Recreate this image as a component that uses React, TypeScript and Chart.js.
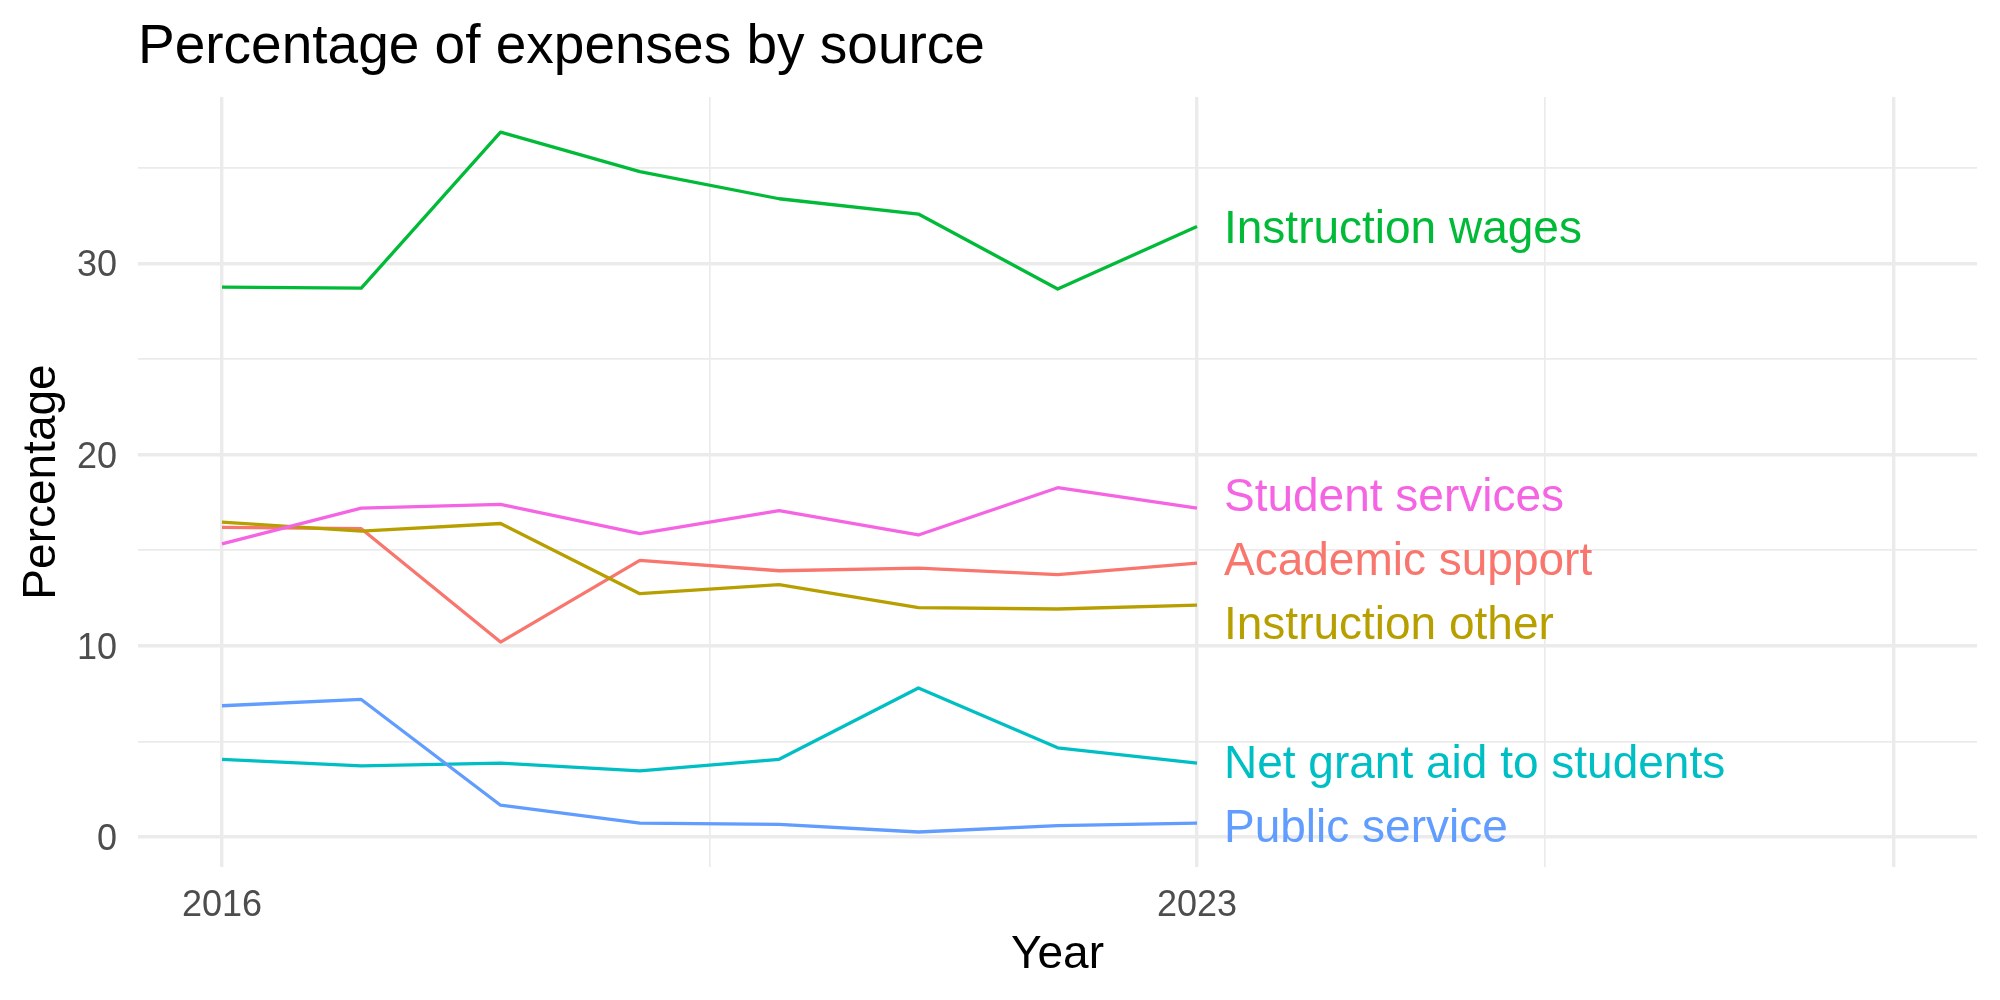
import React, { useEffect, useRef } from "react";
import { Chart, registerables } from "chart.js";

Chart.register(...registerables);

// ---------- data ----------
const years = [2016, 2017, 2018, 2019, 2020, 2021, 2022, 2023];

const seriesNames = [
  "Academic support",
  "Instruction other",
  "Instruction wages",
  "Net grant aid to students",
  "Public service",
  "Student services",
];

const academicSupport = [16.2, 16.13, 10.2, 14.47, 13.93, 14.07, 13.73, 14.33];
const instructionOther = [16.47, 16.0, 16.4, 12.73, 13.2, 12.0, 11.93, 12.13];
const instructionWages = [28.76, 28.71, 36.86, 34.8, 33.38, 32.58, 28.66, 31.93];
const netGrantAid = [4.07, 3.73, 3.87, 3.47, 4.07, 7.8, 4.67, 3.87];
const publicService = [6.87, 7.2, 1.67, 0.73, 0.67, 0.27, 0.6, 0.73];
const studentServices = [15.33, 17.2, 17.4, 15.87, 17.07, 15.8, 18.27, 17.2];

const seriesValues = [
  academicSupport,
  instructionOther,
  instructionWages,
  netGrantAid,
  publicService,
  studentServices,
];

const seriesColors = ["#F8766D", "#B79F00", "#00BA38", "#00BFC4", "#619CFF", "#F564E3"];

const xMajorTicks = [2016, 2023, 2028];
const xMajorLabels = ["2016", "2023", ""];
const xMinorTicks = [2019.5, 2025.5];
const yMajorTicks = [0, 10, 20, 30];
const yMinorTicks = [5, 15, 25, 35];

const titleText = "Percentage of expenses by source";
const xTitle = "Year";
const yTitle = "Percentage";

// ---------- helpers ----------
const FONT = '"Liberation Sans", Arial, Helvetica, sans-serif';
const font = (s: number) => `${s}px ${FONT}`;

function repel(ys: number[], gap: number): number[] {
  // ys in pixel space; returns adjusted positions keeping minimum gap
  const idx = ys.map((y, i) => i).sort((a, b) => ys[a] - ys[b]);
  let clusters = idx.map((i) => ({ members: [i], center: ys[i] }));
  let changed = true;
  while (changed) {
    changed = false;
    for (let k = 0; k < clusters.length - 1; k++) {
      const a = clusters[k];
      const b = clusters[k + 1];
      const aBottom = a.center + ((a.members.length - 1) / 2) * gap;
      const bTop = b.center - ((b.members.length - 1) / 2) * gap;
      if (bTop - aBottom < gap) {
        const members = a.members.concat(b.members);
        const center = members.reduce((s, m) => s + ys[m], 0) / members.length;
        clusters.splice(k, 2, { members, center });
        changed = true;
        break;
      }
    }
  }
  const out = ys.slice();
  clusters.forEach((c) => {
    const n = c.members.length;
    c.members.forEach((m, j) => {
      out[m] = c.center + (j - (n - 1) / 2) * gap;
    });
  });
  return out;
}

const textPlugin = {
  id: "textPlugin",
  afterDraw(chart: any) {
    const ctx = chart.ctx as CanvasRenderingContext2D;
    const xs = chart.scales.x;
    const ys = chart.scales.y;
    const area = chart.chartArea;
    ctx.save();

    // title
    ctx.fillStyle = "#000000";
    ctx.font = font(55);
    ctx.textAlign = "left";
    ctx.textBaseline = "alphabetic";
    ctx.fillText(titleText, area.left, 63);

    // y tick labels
    ctx.fillStyle = "#4D4D4D";
    ctx.font = font(36);
    ctx.textAlign = "right";
    yMajorTicks.forEach((v) => {
      ctx.fillText(String(v), 117, ys.getPixelForValue(v) + 13);
    });

    // x tick labels
    ctx.textAlign = "center";
    xMajorTicks.forEach((v, i) => {
      if (xMajorLabels[i]) ctx.fillText(xMajorLabels[i], xs.getPixelForValue(v), 916);
    });

    // axis titles
    ctx.fillStyle = "#000000";
    ctx.font = font(46);
    ctx.textAlign = "center";
    ctx.fillText(xTitle, (area.left + area.right) / 2, 968);

    ctx.save();
    ctx.translate(55, (area.top + area.bottom) / 2);
    ctx.rotate(-Math.PI / 2);
    ctx.fillText(yTitle, 0, 0);
    ctx.restore();

    // end labels
    const lastX = xs.getPixelForValue(years[years.length - 1]);
    const endYs = seriesValues.map((vals) => ys.getPixelForValue(vals[vals.length - 1]));
    const labelYs = repel(endYs, 64);
    ctx.font = font(46);
    ctx.textAlign = "left";
    seriesNames.forEach((name, i) => {
      ctx.fillStyle = seriesColors[i];
      ctx.fillText(name, lastX + 27, labelYs[i] + 16.5);
    });

    ctx.restore();
  },
};

export default function App() {
  const canvasRef = useRef<HTMLCanvasElement | null>(null);

  useEffect(() => {
    const canvas = canvasRef.current;
    if (!canvas) return;

    const datasets = seriesNames
      .map((name, i) => ({
        label: name,
        data: years.map((yr, j) => ({ x: yr, y: seriesValues[i][j] })),
        borderColor: seriesColors[i],
        backgroundColor: seriesColors[i],
        borderWidth: 3.3,
        pointRadius: 0,
        tension: 0,
        fill: false,
        borderJoinStyle: "round" as const,
        borderCapStyle: "butt" as const,
      }))
      .reverse();

    const isMajorX = (v: number) => xMajorTicks.includes(v);
    const isMajorY = (v: number) => yMajorTicks.includes(v);

    const chart = new Chart(canvas, {
      type: "line",
      data: { datasets },
      options: {
        animation: false,
        responsive: false,
        devicePixelRatio: 1,
        layout: { padding: { left: 138, right: 23, top: 97, bottom: 133 } },
        plugins: {
          legend: { display: false },
          tooltip: { enabled: false },
          title: { display: false },
        },
        scales: {
          x: {
            type: "linear",
            min: 2015.397,
            max: 2028.6,
            border: { display: false },
            ticks: { display: false },
            grid: {
              drawTicks: false,
              color: "#EBEBEB",
              lineWidth: (c: any) => (c.tick && isMajorX(c.tick.value) ? 3.4 : 1.7),
            },
            afterBuildTicks: (scale: any) => {
              scale.ticks = [...xMajorTicks, ...xMinorTicks]
                .sort((a, b) => a - b)
                .map((v) => ({ value: v }));
            },
          },
          y: {
            type: "linear",
            min: -1.56,
            max: 38.7,
            border: { display: false },
            ticks: { display: false },
            grid: {
              drawTicks: false,
              color: "#EBEBEB",
              lineWidth: (c: any) => (c.tick && isMajorY(c.tick.value) ? 3.4 : 1.7),
            },
            afterBuildTicks: (scale: any) => {
              scale.ticks = [...yMajorTicks, ...yMinorTicks]
                .sort((a, b) => a - b)
                .map((v) => ({ value: v }));
            },
          },
        },
      },
      plugins: [textPlugin],
    });

    return () => chart.destroy();
  }, []);

  return (
    <div style={{ position: "absolute", left: 0, top: 0, width: 2000, height: 1000, background: "#ffffff" }}>
      <canvas ref={canvasRef} width={2000} height={1000} style={{ width: 2000, height: 1000 }} />
    </div>
  );
}
